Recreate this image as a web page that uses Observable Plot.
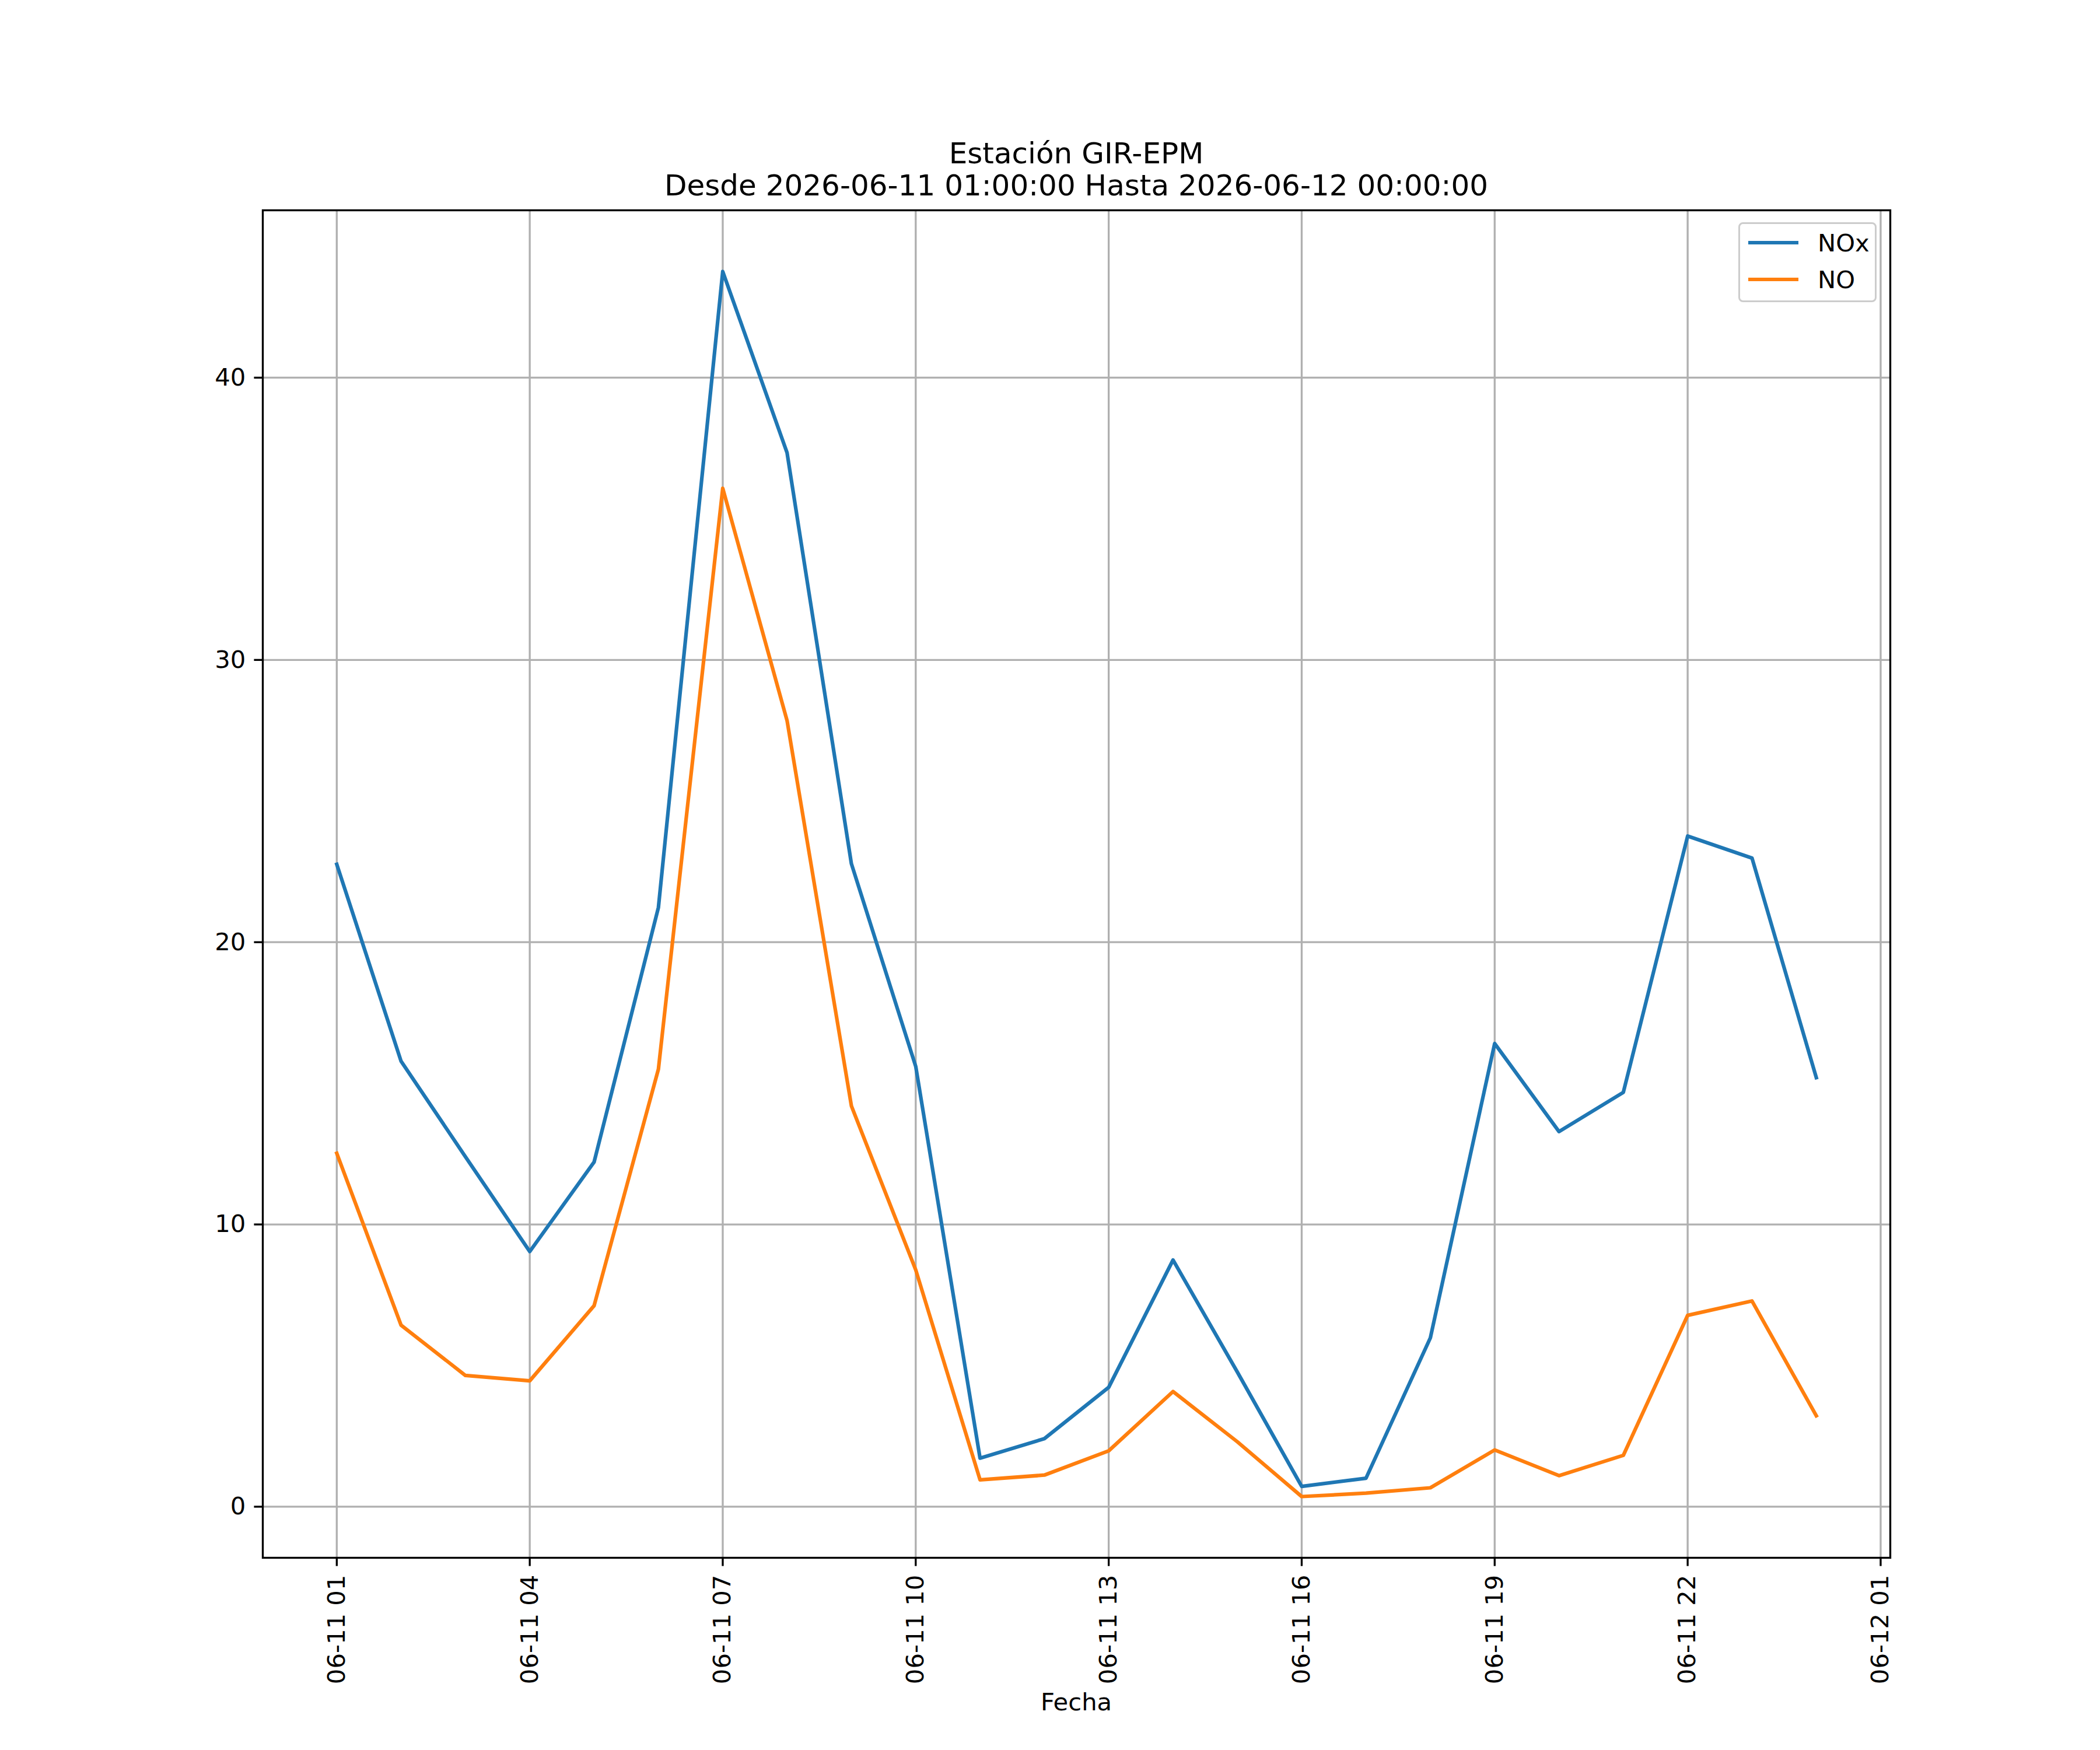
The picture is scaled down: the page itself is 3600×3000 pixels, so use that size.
<!DOCTYPE html>
<html>
<head>
<meta charset="utf-8">
<script src="https://cdn.jsdelivr.net/npm/d3@7"></script>
<script src="https://cdn.jsdelivr.net/npm/@observablehq/plot@0.6"></script>
<style>
  html, body { margin: 0; padding: 0; background: white; }
  #wrap { position: relative; width: 3600px; height: 3000px; background: white; font-family: "DejaVu Sans", sans-serif; color: black; }
  #wrap svg { position: absolute; left: 0; top: 0; }
  .t { position: absolute; white-space: nowrap; line-height: 1; transform: translateX(-50%); }
  #legend { position: absolute; left: 2980px; top: 381px; width: 237px; height: 137px; box-sizing: border-box;
            border: 3.33px solid #cccccc; border-radius: 8px; background: rgba(255,255,255,0.8); }
  .lg { position: absolute; left: 14px; width: 86px; height: 6.25px; }
  .lt { position: absolute; left: 133px; font-size: 41.7px; line-height: 1; }
</style>
</head>
<body>
<div id="wrap">
  <div class="t" style="left:1845px; top:238px; font-size:50px;">Estación GIR-EPM</div>
  <div class="t" style="left:1845px; top:293px; font-size:50px;">Desde 2026-06-11 01:00:00 Hasta 2026-06-12 00:00:00</div>
  <div class="t" style="left:1845px; top:2897px; font-size:41.7px;">Fecha</div>
</div>
<script>
// ---- data ----
const hours = [
  "2026-06-11T01:00Z","2026-06-11T02:00Z","2026-06-11T03:00Z","2026-06-11T04:00Z",
  "2026-06-11T05:00Z","2026-06-11T06:00Z","2026-06-11T07:00Z","2026-06-11T08:00Z",
  "2026-06-11T09:00Z","2026-06-11T10:00Z","2026-06-11T11:00Z","2026-06-11T12:00Z",
  "2026-06-11T13:00Z","2026-06-11T14:00Z","2026-06-11T15:00Z","2026-06-11T16:00Z",
  "2026-06-11T17:00Z","2026-06-11T18:00Z","2026-06-11T19:00Z","2026-06-11T20:00Z",
  "2026-06-11T21:00Z","2026-06-11T22:00Z","2026-06-11T23:00Z","2026-06-12T00:00Z"
];
const noxValues = [22.76, 15.78, 12.4, 9.04, 12.21, 21.23, 43.76, 37.34, 22.78, 15.6, 1.72, 2.41,
                   4.23, 8.74, 4.77, 0.72, 1.01, 5.98, 16.41, 13.29, 14.68, 23.76, 22.98, 15.2];
const noValues  = [12.52, 6.43, 4.65, 4.46, 7.12, 15.5, 36.08, 27.85, 14.2, 8.39, 0.95, 1.12,
                   1.98, 4.08, 2.3, 0.36, 0.48, 0.67, 2.01, 1.1, 1.82, 6.78, 7.29, 3.22];
const seriesNames = ["NOx", "NO"];
const seriesColors = ["#1f77b4", "#ff7f0e"];
const xTickLabels = ["2026-06-11T01:00Z","2026-06-11T04:00Z","2026-06-11T07:00Z","2026-06-11T10:00Z",
                     "2026-06-11T13:00Z","2026-06-11T16:00Z","2026-06-11T19:00Z","2026-06-11T22:00Z",
                     "2026-06-12T01:00Z"];
const yTickValues = [0, 10, 20, 30, 40];

// ---- build ----
const times = hours.map(h => new Date(h));
const rows = [];
[noxValues, noValues].forEach((vals, i) => vals.forEach((v, j) => rows.push({t: times[j], v, s: seriesNames[i]})));
const xTicks = xTickLabels.map(h => new Date(h));

const all = noxValues.concat(noValues);
const yLo = d3.min(all), yHi = d3.max(all), yPad = 0.05 * (yHi - yLo);
const tLo = +times[0], tHi = +times[times.length - 1], tPad = 0.05 * (tHi - tLo);

const LW = 6.25, GW = 3.33;
const chart = Plot.plot({
  width: 3600, height: 3000,
  marginLeft: 450, marginRight: 360, marginTop: 360, marginBottom: 330,
  style: {fontFamily: "DejaVu Sans", fontSize: "41.7px", background: "transparent", color: "black", overflow: "visible"},
  x: {type: "utc", domain: [new Date(tLo - tPad), new Date(tHi + tPad)]},
  y: {domain: [yLo - yPad, yHi + yPad]},
  color: {domain: seriesNames, range: seriesColors},
  marks: [
    Plot.gridX(xTicks, {stroke: "#b0b0b0", strokeOpacity: 1, strokeWidth: GW}),
    Plot.gridY(yTickValues, {stroke: "#b0b0b0", strokeOpacity: 1, strokeWidth: GW}),
    Plot.line(rows, {x: "t", y: "v", z: "s", stroke: "s", strokeWidth: LW, strokeLinejoin: "round", strokeLinecap: "square"}),
    Plot.axisX(xTicks, {tickFormat: d3.utcFormat("%m-%d %H"), tickRotate: -90, tickSize: 14.6, tickPadding: 14.6,
                        fontSize: 41.7, label: null, strokeWidth: GW}),
    Plot.axisY(yTickValues, {tickSize: 14.6, tickPadding: 14.6, fontSize: 41.7, label: null, strokeWidth: GW}),
    Plot.frame({stroke: "black", strokeWidth: GW})
  ]
});
const wrap = document.getElementById("wrap");
wrap.insertBefore(chart, wrap.firstChild);

// legend
const lg = document.createElement("div");
lg.id = "legend";
seriesNames.forEach((name, i) => {
  const line = document.createElement("div");
  line.className = "lg";
  line.style.top = (32 - LW / 2 + i * 63) + "px";
  line.style.background = seriesColors[i];
  lg.appendChild(line);
  const txt = document.createElement("div");
  txt.className = "lt";
  txt.style.top = (32 - 20 + i * 63) + "px";
  txt.textContent = name;
  lg.appendChild(txt);
});
wrap.appendChild(lg);
</script>
</body>
</html>
